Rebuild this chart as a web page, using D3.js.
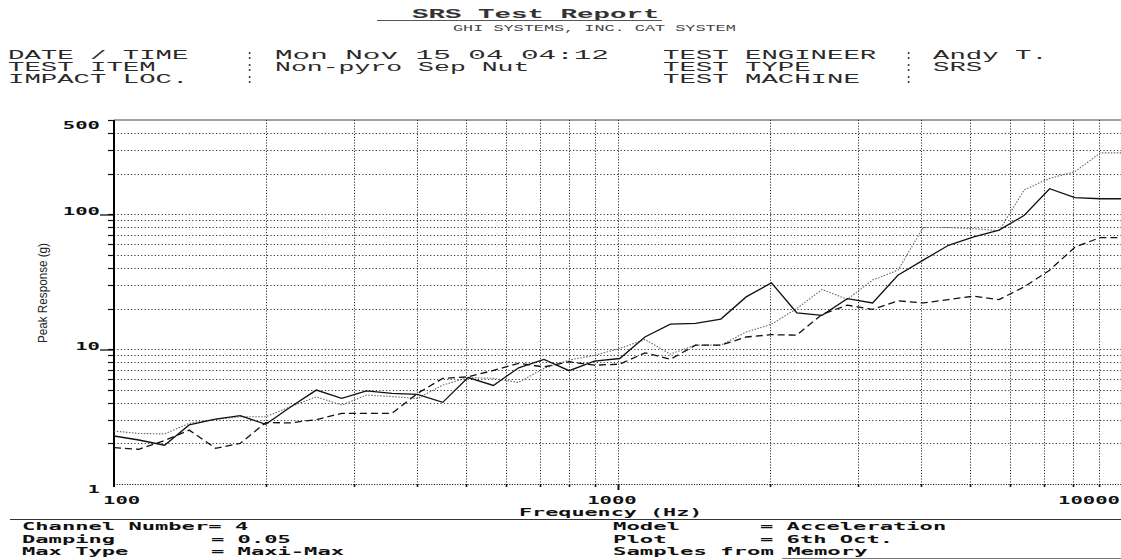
<!DOCTYPE html>
<html>
<head>
<meta charset="utf-8">
<script src="https://cdn.jsdelivr.net/npm/d3@7"></script>
<style>
html,body{margin:0;padding:0;background:#fff;}
svg{display:block;}
</style>
</head>
<body>
<svg id="chart" width="1121" height="560"></svg>
<script>
// ---------------- DATA ----------------
const freqs = [100, 112, 126, 141, 159, 178, 200, 224, 252, 283, 317, 356, 400, 449, 504, 566, 635, 713, 800, 898,
  1008, 1131, 1270, 1425, 1600, 1796, 2016, 2263, 2540, 2851, 3200, 3592, 4032, 4525, 5080, 5702, 6400, 7184, 8063, 9051, 10159];

const solidSeries = [2.27, 2.12, 1.94, 2.74, 3.03, 3.21, 2.77, 3.72, 4.97, 4.31, 4.91, 4.70, 4.62, 4.03, 6.15, 5.38, 7.27, 8.4, 6.92, 8.14,
  8.52, 12.3, 15.3, 15.5, 16.7, 24.4, 31.0, 18.6, 17.8, 23.7, 22.0, 35.3, 45.7, 58.9, 67.9, 76.4, 98.3, 154.6, 132.9, 130.3, 130.3];

const dottedSeries = [2.47, 2.37, 2.35, 2.82, 3.01, 3.15, 3.15, 3.74, 4.43, 3.85, 4.56, 4.45, 4.31, 5.41, 6.15, 6.07, 5.66, 7.2, 8.3, 9.0,
  10.1, 11.8, 9.2, 10.7, 10.7, 13.4, 15.3, 20.0, 27.7, 23.4, 32.5, 38.5, 79.7, 79.7, 78.3, 75.5, 152, 184.5, 206.6, 285, 285];

const dashedSeries = [1.86, 1.81, 2.1, 2.51, 1.84, 2.0, 2.85, 2.84, 3.0, 3.34, 3.34, 3.34, 4.69, 6.07, 6.23, 6.95, 7.85, 7.38, 8.06, 7.6,
  7.74, 9.39, 8.4, 10.7, 10.7, 12.3, 12.8, 12.7, 18.1, 21.2, 19.7, 22.8, 22.0, 23.3, 24.7, 23.3, 29.0, 38.5, 57.0, 67.2, 67.2];

const xTickLabels = [100, 1000, 10000];
const yTickLabels = [1, 10, 100, 500];

const titleText = "SRS Test Report";
const subTitleText = "GHI SYSTEMS, INC. CAT SYSTEM";
const headerLeftLabels = ["DATE / TIME", "TEST ITEM", "IMPACT LOC."];
const headerLeftValues = ["Mon Nov 15 04   04:12", "Non-pyro Sep Nut", ""];
const headerRightLabels = ["TEST ENGINEER", "TEST TYPE", "TEST MACHINE"];
const headerRightValues = ["Andy T.", "SRS", ""];

const footerLeft = [["Channel Number=", "4"], ["Damping", "= 0.05"], ["Max Type", "= Maxi-Max"]];
const footerRight = [["Model", "= Acceleration"], ["Plot", "= 6th Oct."], ["Samples from Memory", ""]];

const xAxisTitle = "Frequency (Hz)";
const yAxisTitle = "Peak Response (g)";

// ---------------- LAYOUT ----------------
const svg = d3.select("#chart");
const W = 1121;
const pLeft = 114, pRight = 1122, pTop = 120, pBottom = 484;

const x = d3.scaleLog().domain([100, 10000]).range([pLeft, pRight]);
const y = d3.scaleLog().domain([1, 500]).range([pBottom, pTop]);

const HEAD_FONT = "'Liberation Mono', 'DejaVu Sans Mono', monospace";
const BIT_FONT = "'DejaVu Sans Mono', 'Liberation Mono', monospace";

function stretched(g, str, px, py, perChar, size, opts = {}) {
  if (!str) return null;
  return g.append("text")
    .attr("x", px).attr("y", py)
    .attr("font-family", opts.family || HEAD_FONT)
    .attr("font-size", size)
    .attr("font-weight", opts.weight || "normal")
    .attr("fill", opts.fill || "#2a2a2a")
    .attr("textLength", str.length * perChar)
    .attr("lengthAdjust", "spacingAndGlyphs")
    .text(str);
}

// ---------------- HEADER ----------------
const head = svg.append("g");
stretched(head, titleText, 412, 18, 16.5, 12.5, {weight: "bold", fill: "#333"});
head.append("line").attr("x1", 377).attr("x2", 662).attr("y1", 20.5).attr("y2", 20.5)
  .attr("stroke", "#555").attr("stroke-width", 1);
stretched(head, subTitleText, 453, 31, 10.1, 8.5, {fill: "#444"});

const rowY = [59, 71, 83];
rowY.forEach((ry, i) => {
  stretched(head, headerLeftLabels[i], 8, ry, 16.4, 12);
  head.append("text").attr("x", 246).attr("y", ry).attr("font-family", HEAD_FONT)
    .attr("font-size", 12).attr("fill", "#2a2a2a").text(":");
  stretched(head, headerLeftValues[i], 275, ry, 15.9, 12);
  stretched(head, headerRightLabels[i], 663, ry, 16.4, 12);
  head.append("text").attr("x", 905).attr("y", ry).attr("font-family", HEAD_FONT)
    .attr("font-size", 12).attr("fill", "#2a2a2a").text(":");
  stretched(head, headerRightValues[i], 933, ry, 16.4, 12);
});

// ---------------- GRID ----------------
const plot = svg.append("g");
const yGrid = [];
[1, 10, 100].forEach(dec => { for (let m = 1; m <= 9; m++) { const v = dec * m; if (v > 1 && v < 500) yGrid.push(v); } });
const xGrid = [];
[100, 1000].forEach(dec => { for (let m = 1; m <= 9; m++) { const v = dec * m; if (v > 100) xGrid.push(v); } });
xGrid.push(10000);

plot.append("g").selectAll("line").data(yGrid).join("line")
  .attr("x1", pLeft).attr("x2", W).attr("y1", d => Math.round(y(d)) + 0.5).attr("y2", d => Math.round(y(d)) + 0.5)
  .attr("stroke", "#333").attr("stroke-width", 1).attr("stroke-dasharray", "1.2,2.2");

plot.append("g").selectAll("line").data(xGrid).join("line")
  .attr("x1", d => Math.round(x(d)) + 0.5).attr("x2", d => Math.round(x(d)) + 0.5)
  .attr("y1", pTop).attr("y2", pBottom)
  .attr("stroke", "#333").attr("stroke-width", 1).attr("stroke-dasharray", "1.2,1.6");

// bottom (y=1) dotted line
plot.append("line").attr("x1", pLeft).attr("x2", W).attr("y1", pBottom + 0.5).attr("y2", pBottom + 0.5)
  .attr("stroke", "#222").attr("stroke-width", 1).attr("stroke-dasharray", "1.2,1.4");
// top frame
plot.append("line").attr("x1", pLeft).attr("x2", W).attr("y1", pTop).attr("y2", pTop)
  .attr("stroke", "#444").attr("stroke-width", 1.2);

// y minor ticks
plot.append("g").selectAll("line").data(yGrid.concat([500])).join("line")
  .attr("x1", pLeft - 6).attr("x2", pLeft).attr("y1", d => Math.round(y(d)) + 0.5).attr("y2", d => Math.round(y(d)) + 0.5)
  .attr("stroke", "#111").attr("stroke-width", 1.2);
// y major ticks
plot.append("g").selectAll("line").data([10, 100]).join("line")
  .attr("x1", pLeft - 14).attr("x2", pLeft).attr("y1", d => Math.round(y(d)) + 1).attr("y2", d => Math.round(y(d)) + 1)
  .attr("stroke", "#111").attr("stroke-width", 1.3);

// x ticks under bottom
plot.append("g").selectAll("line").data(xGrid).join("line")
  .attr("x1", d => Math.round(x(d)) + 0.5).attr("x2", d => Math.round(x(d)) + 0.5)
  .attr("y1", pBottom).attr("y2", d => d === 1000 ? pBottom + 6 : pBottom + 3)
  .attr("stroke", "#111").attr("stroke-width", d => d === 1000 ? 2 : 1.6);

// left axis
plot.append("line").attr("x1", pLeft).attr("x2", pLeft).attr("y1", pTop).attr("y2", pBottom + 3)
  .attr("stroke", "#000").attr("stroke-width", 2);

// ---------------- SERIES ----------------
svg.append("defs").append("clipPath").attr("id", "clip")
  .append("rect").attr("x", pLeft).attr("y", pTop - 2).attr("width", W - pLeft).attr("height", pBottom - pTop + 4);

const line = d3.line().x((d, i) => x(freqs[i])).y(d => y(d));
const series = svg.append("g").attr("clip-path", "url(#clip)").attr("fill", "none");

series.append("path").datum(dottedSeries).attr("d", line)
  .attr("stroke", "#666").attr("stroke-width", 1.1).attr("stroke-dasharray", "1.5,1.5");
series.append("path").datum(dashedSeries).attr("d", line)
  .attr("stroke", "#111").attr("stroke-width", 1.3).attr("stroke-dasharray", "7,4");
series.append("path").datum(solidSeries).attr("d", line)
  .attr("stroke", "#111").attr("stroke-width", 1.3);

// ---------------- AXIS LABELS ----------------
const lab = svg.append("g");
yTickLabels.forEach(v => {
  const s = String(v);
  const w = s.length * 12.4;
  const base = (v === 1 || v === 500) ? y(v) + 9 : y(v) + 1;
  stretched(lab, s, 100 - w, base, 12.4, 10.5, {family: BIT_FONT, weight: "bold", fill: "#111"});
});
xTickLabels.forEach((v, i) => {
  const s = String(v);
  const w = s.length * 12.4;
  let sx;
  if (i === 0) sx = x(v) - 11;
  else if (i === xTickLabels.length - 1) sx = x(v) - 2 - w;
  else sx = x(v) - 6 - w / 2;
  stretched(lab, s, sx, 504, 12.4, 10.5, {family: BIT_FONT, weight: "bold", fill: "#111"});
});

stretched(lab, xAxisTitle, 519, 515.5, 13.1, 10, {family: BIT_FONT, weight: "bold", fill: "#111"});

lab.append("text")
  .attr("transform", "translate(47,293) rotate(-90)")
  .attr("text-anchor", "middle")
  .attr("font-family", "'Liberation Sans', Arial, sans-serif")
  .attr("font-size", 12.5)
  .attr("fill", "#222")
  .attr("textLength", 100).attr("lengthAdjust", "spacingAndGlyphs")
  .text(yAxisTitle);

// ---------------- FOOTER ----------------
const foot = svg.append("g");
foot.append("line").attr("x1", 10).attr("x2", W).attr("y1", 519.5).attr("y2", 519.5).attr("stroke", "#333").attr("stroke-width", 1.2);
foot.append("line").attr("x1", 782).attr("x2", W).attr("y1", 558.5).attr("y2", 558.5).attr("stroke", "#777").attr("stroke-width", 1.2);

const footY = [530, 543, 555];
footY.forEach((fy, i) => {
  const [l, r] = footerLeft[i];
  stretched(foot, l, 22, fy, 13.3, 11, {family: BIT_FONT, weight: "bold", fill: "#111"});
  const rx = r.startsWith("=") ? 211 : 235;
  stretched(foot, r, rx, fy, 13.3, 11, {family: BIT_FONT, weight: "bold", fill: "#111"});
  const [l2, r2] = footerRight[i];
  stretched(foot, l2, 613, fy, 13.4, 11, {family: BIT_FONT, weight: "bold", fill: "#111"});
  stretched(foot, r2, 760, fy, 13.3, 11, {family: BIT_FONT, weight: "bold", fill: "#111"});
});
</script>
</body>
</html>
